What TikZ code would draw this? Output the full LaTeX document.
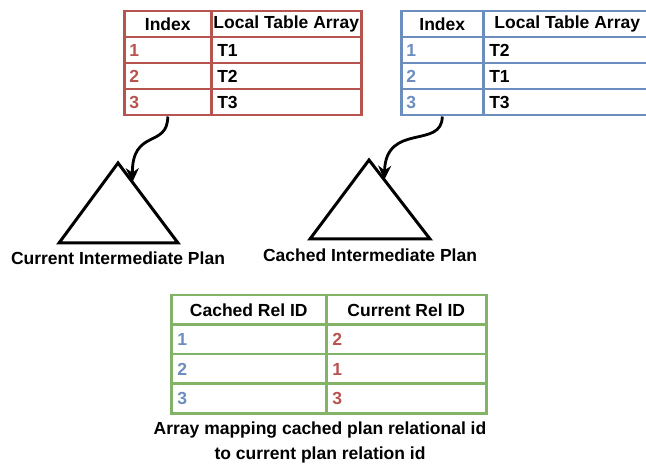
\documentclass[tikz,border=0pt]{standalone}
\usepackage{fontspec}
\setmainfont{Liberation Sans}
\usetikzlibrary{arrows.meta,calc}
\definecolor{rd}{HTML}{B85450}
\definecolor{bl}{HTML}{6C8EBF}
\definecolor{gn}{HTML}{82B366}
\begin{document}
\begin{tikzpicture}[x=1pt,y=-1pt,
  font=\fontsize{17.5}{25}\selectfont\bfseries,
  cell/.style={draw=#1, line width=2.5pt, inner xsep=5pt, inner ysep=0pt,
    minimum height=26pt, align=left, anchor=north west},
  rcell/.style={cell=rd},
  bcell/.style={cell=bl},
  gcell/.style={cell=gn, minimum height=29.5pt},
  hd/.style={inner xsep=0pt, minimum width=#1},
  tri/.style={draw=black, line width=3pt, line join=miter},
  arr/.style={draw=black, line width=2.8pt, -{Stealth[length=14pt,width=13pt,inset=4.5pt]}},
  lbl/.style={align=center}
]
\useasboundingbox (0,0) rectangle (646,465);

% red table
\node[rcell, hd=87pt]  (rh1) at (123,10) {Index};
\node[rcell, hd=150pt] (rh2) at (210,10) {Local Table Array};
\node[rcell, text width=77pt, text=rd]  (r1i) at (123,36) {1};
\node[rcell, text width=138pt, inner xsep=6pt] (r1t) at (210,36) {T1};
\node[rcell, text width=77pt, text=rd]  (r2i) at (123,62) {2};
\node[rcell, text width=138pt, inner xsep=6pt] (r2t) at (210,62) {T2};
\node[rcell, text width=77pt, text=rd]  (r3i) at (123,88) {3};
\node[rcell, text width=138pt, inner xsep=6pt] (r3t) at (210,88) {T3};

% blue table
\node[bcell, hd=82pt]  (bh1) at (400,10) {Index};
\node[bcell, hd=168pt] (bh2) at (482,10) {Local Table Array};
\node[bcell, text width=72pt, text=bl]  (b1i) at (400,36) {1};
\node[bcell, text width=156pt, inner xsep=6pt] (b1t) at (482,36) {T2};
\node[bcell, text width=72pt, text=bl]  (b2i) at (400,62) {2};
\node[bcell, text width=156pt, inner xsep=6pt] (b2t) at (482,62) {T1};
\node[bcell, text width=72pt, text=bl]  (b3i) at (400,88) {3};
\node[bcell, text width=156pt, inner xsep=6pt] (b3t) at (482,88) {T3};

% triangles
\coordinate (cL) at (59,243);
\coordinate (cA) at (118,163);
\coordinate (cR) at (178,243);
\draw[tri] (cL) -- (cA) -- (cR) -- cycle;
\coordinate (kL) at (310,239);
\coordinate (kA) at (369,160);
\coordinate (kR) at (430,239);
\draw[tri] (kL) -- (kA) -- (kR) -- cycle;

\node[lbl] (curlbl) at (118,258) {Current Intermediate Plan};
\node[lbl] (cachlbl) at (370,255) {Cached Intermediate Plan};

% connectors
\coordinate (cEnd) at ($(cA)!0.24!(cR)$);
\coordinate (kEnd) at ($(kA)!0.25!(kR)$);
\draw[arr] (r3i.south) .. controls +(0,32) and (132,128) .. (cEnd);
\draw[arr] (b3i.south) .. controls +(0,33) and (386,122) .. (kEnd);

% green table
\node[gcell, hd=155pt] (gh1) at (170,294) {Cached Rel ID};
\node[gcell, hd=160pt] (gh2) at (325,294) {Current Rel ID};
\node[gcell, text width=143pt, inner xsep=6pt, text=bl] (g1a) at (170,323.5) {1};
\node[gcell, text width=148pt, inner xsep=6pt, text=rd] (g1b) at (325,323.5) {2};
\node[gcell, text width=143pt, inner xsep=6pt, text=bl] (g2a) at (170,353) {2};
\node[gcell, text width=148pt, inner xsep=6pt, text=rd] (g2b) at (325,353) {1};
\node[gcell, text width=143pt, inner xsep=6pt, text=bl] (g3a) at (170,382.5) {3};
\node[gcell, text width=148pt, inner xsep=6pt, text=rd] (g3b) at (325,382.5) {3};

\node[lbl] (cap) at (320,442.5) {Array mapping cached plan relational id\\to current plan relation id};
\end{tikzpicture}
\end{document}
